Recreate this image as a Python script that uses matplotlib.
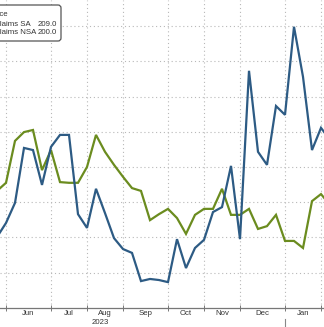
import matplotlib
matplotlib.use("Agg")
import matplotlib.pyplot as plt
from matplotlib.patches import FancyBboxPatch
import numpy as np
import pandas as pd

plt.rcParams["font.family"] = ["Liberation Sans", "DejaVu Sans"]

# weekly observations (Fridays), late May 2023 to early Feb 2024
weeks = pd.date_range("2023-05-26", periods=38, freq="7D")

claims_sa = [180.1, 184.1, 189.8, 205.4, 204.8, 194.9, 205.7, 209.1, 209.1, 186.6,
             182.7, 193.8, 186.9, 179.8, 176.7, 175.6, 167.6, 168.2, 167.9, 167.3,
             179.5, 171.3, 177.0, 179.3, 187.2, 188.6, 200.3, 179.5, 227.3, 204.3,
             200.6, 217.3, 214.8, 239.8, 225.6, 204.8, 211.1, 207.7]
claims_nsa = [193.2, 195.5, 207.4, 209.9, 210.5, 199.1, 204.8, 195.7, 195.5, 195.5,
              200.0, 209.1, 204.3, 200.6, 197.2, 194.0, 193.2, 184.9, 186.6, 188.1,
              185.5, 181.0, 186.4, 188.1, 188.1, 193.8, 186.4, 186.4, 188.1, 182.4,
              183.2, 186.4, 179.0, 179.0, 177.0, 190.3, 192.3, 189.2]
last_sa = 209.0
last_nsa = 200.0

blue = "#2d5b84"
green = "#6b8c1f"
grid_c = "#b8b8b8"
text_c = "#333333"
fs = 5.6

W, H = 324, 327
fig = plt.figure(figsize=(W / 100, H / 100), dpi=100)
fig.patch.set_facecolor("white")

# plot area runs past the left, top and right edges of the figure
axis_px = 307.5
ax = fig.add_axes([0, (H - axis_px) / H, 1, axis_px / H])

x = np.arange(len(weeks)) - 1
ax.plot(x, claims_nsa, color=green, lw=1.6, solid_joinstyle="miter")
ax.plot(x, claims_sa, color=blue, lw=1.6, solid_joinstyle="miter")

ax.set_xlim(-6 / 9, 318 / 9)
ax.set_ylim(160.1, 247.4)

# month boundaries at the first weekly point of each month
months = weeks.to_period("M")
first_idx = [i for i in range(1, len(weeks)) if months[i] != months[i - 1]]
tick_x = [x[i] for i in first_idx]
ax.set_xticks(tick_x)
ax.set_xticklabels([])
ax.tick_params(axis="x", direction="inout", length=5, width=0.7, color="#777777")
ax.set_yticks(np.arange(170, 245, 10))
ax.tick_params(axis="y", length=0, labelleft=False)

ax.grid(True, color=grid_c, lw=0.8, linestyle=(0, (1, 2.5)))
ax.set_axisbelow(True)
for s in ["left", "right", "top"]:
    ax.spines[s].set_visible(False)
ax.spines["bottom"].set_color("#777777")
ax.spines["bottom"].set_linewidth(0.9)

# month names centred between boundaries
for a, b in zip(first_idx[:-1], first_idx[1:]):
    ax.text((x[a] + x[b]) / 2, -0.008, weeks[a].strftime("%b"), transform=ax.get_xaxis_transform(),
            ha="center", va="top", fontsize=fs, color=text_c)
ax.text(10.5, -0.039, "2023", transform=ax.get_xaxis_transform(),
        ha="center", va="top", fontsize=fs, color=text_c)

# year divider below the axis at the start of January
jan = [x[i] for i in first_idx if weeks[i].month == 1][0]
ax.plot([jan, jan], [-0.037, -0.1], transform=ax.get_xaxis_transform(),
        color="#888888", lw=0.8, clip_on=False)

# legend box in the top-left corner
box = FancyBboxPatch((-20, H - 41), 81, 36, boxstyle="round,pad=0,rounding_size=3",
                     transform=None, facecolor="white", edgecolor="#555555", lw=0.9, zorder=5)
fig.patches.append(box)
fig.text(-26.8 / W, 1 - 15 / H, "Last Price", fontsize=fs, color=text_c, va="center", ha="left", zorder=6)
fig.text(-26.5 / W, 1 - 24 / H, "Initial Claims SA", fontsize=fs, color=text_c, va="center", ha="left", zorder=6)
fig.text(-26.5 / W, 1 - 33 / H, "Initial Claims NSA", fontsize=fs, color=text_c, va="center", ha="left", zorder=6)
fig.text(57 / W, 1 - 24 / H, f"{last_sa:.1f}", fontsize=fs, color=text_c, va="center", ha="right", zorder=6)
fig.text(57 / W, 1 - 33 / H, f"{last_nsa:.1f}", fontsize=fs, color=text_c, va="center", ha="right", zorder=6)

fig.savefig("out.png", dpi=100, facecolor="white")
